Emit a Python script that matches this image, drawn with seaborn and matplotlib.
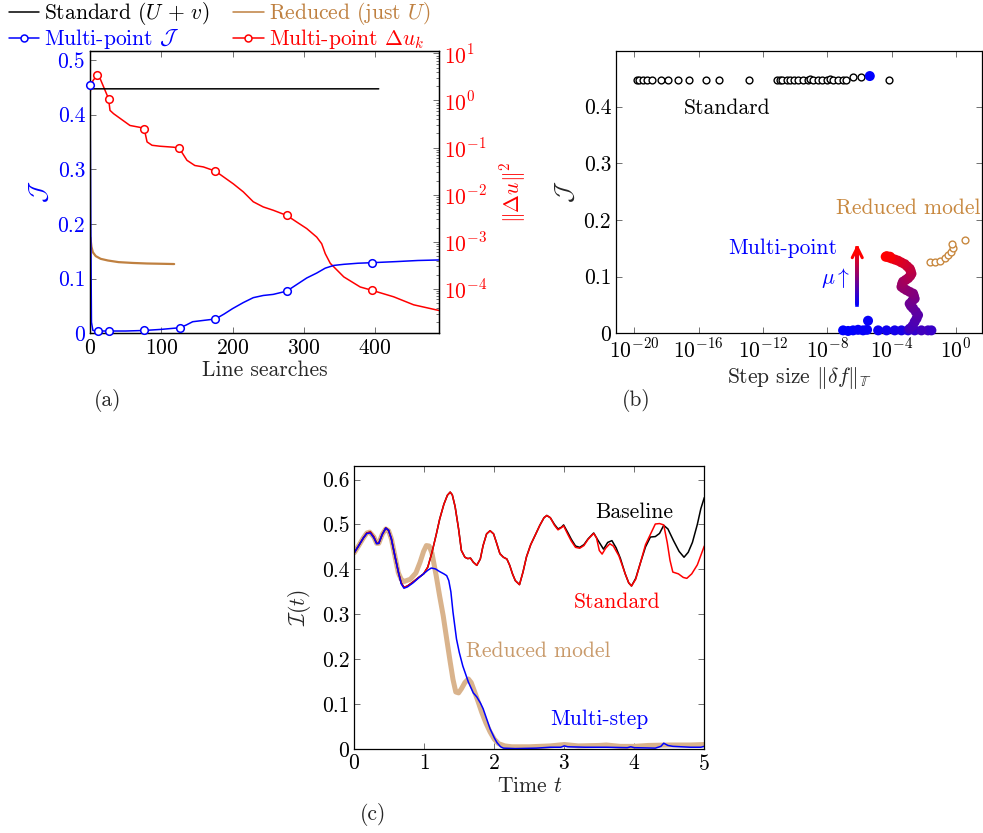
import numpy as np
import matplotlib
matplotlib.use("Agg")
import matplotlib.pyplot as plt
from matplotlib.lines import Line2D
from matplotlib.collections import LineCollection
from matplotlib.colors import LinearSegmentedColormap
import seaborn as sns

# ---------------- (a) optimisation histories ----------------
std_iter = [0, 2, 405]
std_J = [0.454, 0.447, 0.447]

red_iter = [0.5, 2, 4, 8, 15, 25, 40, 60, 80, 100, 118]
red_J = [0.175, 0.158, 0.148, 0.141, 0.136, 0.133, 0.130, 0.1285, 0.1275, 0.127, 0.1265]

mpJ_iter = [0, 1, 2, 4, 11, 26, 50, 76, 100, 126, 135, 144, 163, 176, 188, 200, 215,
            229, 243, 257, 276, 290, 304, 318, 330, 342, 356, 376, 396, 430, 460, 490]
mpJ_val = [0.454, 0.2, 0.02, 0.005, 0.004, 0.004, 0.004, 0.005, 0.007, 0.010, 0.015,
           0.021, 0.024, 0.026, 0.035, 0.045, 0.056, 0.065, 0.069, 0.071, 0.077, 0.089,
           0.101, 0.110, 0.119, 0.124, 0.126, 0.128, 0.129, 0.131, 0.133, 0.134]
mpJ_outer_iter = [0, 11, 26, 76, 126, 176, 276, 396]
mpJ_outer_val = [0.454, 0.004, 0.004, 0.005, 0.010, 0.026, 0.077, 0.129]

du_iter = [0, 4, 10, 14, 26, 28, 33, 56, 70, 76, 80, 87, 98, 117, 125, 136, 147, 159,
           176, 201, 215, 229, 243, 257, 276, 290, 304, 318, 325, 330, 337, 356, 379,
           396, 426, 454, 489]
du_val = [1.48, 2.63, 3.47, 2.95, 1.09, 0.617, 0.525, 0.295, 0.269, 0.251, 0.132, 0.112,
          0.107, 0.102, 0.0977, 0.0537, 0.0417, 0.0389, 0.0316, 0.0170, 0.0115, 7.08e-3,
          5.50e-3, 4.68e-3, 3.63e-3, 2.63e-3, 1.91e-3, 1.26e-3, 9.1e-4, 5.6e-4, 3.5e-4,
          1.8e-4, 1.1e-4, 9.3e-5, 6.8e-5, 4.6e-5, 3.5e-5]
du_outer_iter = [10, 26, 76, 125, 176, 276, 396]
du_outer_val = [3.47, 1.09, 0.251, 0.0977, 0.0316, 3.63e-3, 9.3e-5]

# ---------------- (b) objective versus step size ----------------
std_step_exp = [-19.86, -19.69, -19.44, -19.19, -18.92, -18.34, -17.89, -17.27, -16.63,
                -15.57, -14.74, -12.86, -11.12, -10.95, -10.79, -10.54, -10.33, -10.08,
                -9.81, -9.50, -9.19, -9.05, -8.88, -8.57, -8.32, -8.01, -7.81, -7.64,
                -7.33, -7.02, -6.81, -6.40, -5.88, -4.16]
std_step_J = [0.447] * 21 + [0.449, 0.447, 0.447, 0.447, 0.447, 0.449, 0.447,
                             0.447, 0.447, 0.447, 0.452, 0.452, 0.447]

mp_step_exp = [-5.36, -7.02, -6.71, -6.40, -6.09, -5.78, -5.53, -5.47, -4.84, -4.32,
               -3.81, -3.39, -2.98, -2.57, -2.15, -1.74, -1.53,
               -2.88, -2.70, -2.57, -2.45, -2.36, -2.50, -2.67, -2.80, -2.88, -2.72,
               -2.57, -2.62, -2.67, -2.88, -3.08, -3.25, -3.39, -3.35, -3.29, -3.13,
               -2.98, -2.85, -2.77, -2.82, -2.88, -3.03, -3.19, -3.40, -3.60, -3.80,
               -4.01, -4.20, -4.37, -4.30, -4.10]
mp_step_J = [0.454, 0.005, 0.004, 0.005, 0.006, 0.005, 0.006, 0.022, 0.005, 0.005,
             0.005, 0.005, 0.005, 0.005, 0.005, 0.005, 0.005,
             0.008, 0.013, 0.020, 0.026, 0.032, 0.038, 0.044, 0.048, 0.052, 0.057,
             0.061, 0.066, 0.070, 0.073, 0.076, 0.079, 0.082, 0.087, 0.091, 0.094,
             0.097, 0.101, 0.105, 0.110, 0.114, 0.118, 0.122, 0.125, 0.128, 0.130,
             0.132, 0.134, 0.135, 0.136, 0.135]
mp_mu = [0.0, 0.0, 0.0, 0.0, 0.02, 0.02, 0.03, 0.03, 0.05, 0.06, 0.08, 0.10, 0.15,
         0.20, 0.25, 0.25, 0.22,
         0.25, 0.28, 0.30, 0.32, 0.34, 0.36, 0.38, 0.40, 0.42, 0.44, 0.46, 0.48,
         0.50, 0.52, 0.54, 0.56, 0.58, 0.60, 0.62, 0.64, 0.66, 0.68, 0.70, 0.72,
         0.75, 0.78, 0.81, 0.84, 0.87, 0.90, 0.93, 0.96, 1.0, 1.0, 0.98]

red_step_exp = [-1.63, -1.32, -1.01, -0.70, -0.50, -0.29, -0.19, -0.22, 0.54]
red_step_J = [0.126, 0.126, 0.128, 0.132, 0.138, 0.144, 0.150, 0.157, 0.164]

# ---------------- (c) time histories ----------------
base_t = [0.00, 0.06, 0.13, 0.18, 0.23, 0.28, 0.32, 0.35, 0.40, 0.45, 0.49, 0.53, 0.58,
          0.63, 0.67, 0.71, 0.76, 0.84, 0.92, 0.99, 1.05, 1.11, 1.17, 1.22, 1.28, 1.33,
          1.37, 1.40, 1.44, 1.49, 1.53, 1.58, 1.62, 1.66, 1.70, 1.75, 1.80, 1.84, 1.89,
          1.94, 1.99, 2.03, 2.08, 2.13, 2.18, 2.22, 2.26, 2.30, 2.36, 2.41, 2.46, 2.52,
          2.59, 2.65, 2.71, 2.75, 2.80, 2.86, 2.91, 2.96, 2.99, 3.05, 3.10, 3.16, 3.22,
          3.28, 3.34, 3.42, 3.48, 3.56, 3.62, 3.68, 3.74, 3.80, 3.87, 3.92, 3.96, 4.02,
          4.09, 4.16, 4.23, 4.30, 4.36, 4.42, 4.48, 4.56, 4.64, 4.71, 4.77, 4.83, 4.90,
          4.95, 5.00]
base_I = [0.437, 0.452, 0.470, 0.481, 0.483, 0.472, 0.458, 0.458, 0.478, 0.492, 0.487,
          0.468, 0.430, 0.394, 0.370, 0.360, 0.363, 0.372, 0.382, 0.390, 0.405, 0.438,
          0.477, 0.512, 0.545, 0.565, 0.572, 0.566, 0.540, 0.490, 0.442, 0.427, 0.424,
          0.425, 0.416, 0.409, 0.423, 0.453, 0.479, 0.486, 0.479, 0.460, 0.435, 0.427,
          0.423, 0.409, 0.390, 0.375, 0.366, 0.394, 0.428, 0.455, 0.478, 0.498, 0.515,
          0.520, 0.515, 0.500, 0.490, 0.494, 0.499, 0.482, 0.467, 0.452, 0.449, 0.455,
          0.468, 0.481, 0.465, 0.445, 0.460, 0.464, 0.448, 0.425, 0.390, 0.370, 0.363,
          0.380, 0.416, 0.450, 0.472, 0.473, 0.480, 0.498, 0.490, 0.464, 0.440, 0.427,
          0.438, 0.460, 0.500, 0.535, 0.560]

std_t = [0.00, 0.06, 0.13, 0.18, 0.23, 0.28, 0.32, 0.35, 0.40, 0.45, 0.49, 0.53, 0.58,
         0.63, 0.67, 0.71, 0.76, 0.84, 0.92, 0.99, 1.05, 1.11, 1.17, 1.22, 1.28, 1.33,
         1.37, 1.40, 1.44, 1.49, 1.53, 1.58, 1.62, 1.66, 1.70, 1.75, 1.80, 1.84, 1.89,
         1.94, 1.99, 2.03, 2.08, 2.13, 2.18, 2.22, 2.26, 2.30, 2.36, 2.41, 2.46, 2.52,
         2.59, 2.65, 2.71, 2.75, 2.80, 2.86, 2.91, 2.96, 2.99, 3.05, 3.10, 3.16, 3.22,
         3.28, 3.34, 3.42, 3.46, 3.50, 3.54, 3.59, 3.65, 3.70, 3.78, 3.87, 3.92, 3.96,
         4.02, 4.09, 4.16, 4.23, 4.30, 4.36, 4.42, 4.47, 4.51, 4.55, 4.63, 4.70, 4.75,
         4.82, 4.90, 5.00]
std_I = [0.437, 0.452, 0.470, 0.481, 0.483, 0.472, 0.458, 0.458, 0.478, 0.492, 0.487,
         0.468, 0.430, 0.394, 0.370, 0.360, 0.363, 0.372, 0.382, 0.390, 0.405, 0.438,
         0.477, 0.512, 0.545, 0.565, 0.572, 0.566, 0.540, 0.490, 0.442, 0.427, 0.424,
         0.425, 0.416, 0.409, 0.423, 0.453, 0.479, 0.486, 0.479, 0.460, 0.435, 0.427,
         0.423, 0.409, 0.390, 0.375, 0.366, 0.394, 0.428, 0.455, 0.478, 0.498, 0.515,
         0.520, 0.515, 0.498, 0.488, 0.493, 0.497, 0.478, 0.463, 0.449, 0.447, 0.453,
         0.467, 0.480, 0.470, 0.442, 0.434, 0.447, 0.457, 0.452, 0.430, 0.390, 0.370,
         0.363, 0.378, 0.416, 0.455, 0.478, 0.501, 0.502, 0.499, 0.460, 0.420, 0.394,
         0.390, 0.382, 0.380, 0.390, 0.410, 0.452]

ms_t = [0.00, 0.06, 0.13, 0.18, 0.23, 0.28, 0.32, 0.35, 0.40, 0.45, 0.49, 0.53, 0.58,
        0.63, 0.67, 0.71, 0.76, 0.84, 0.92, 0.99, 1.05, 1.10, 1.16, 1.22, 1.28, 1.32,
        1.35, 1.38, 1.41, 1.46, 1.50, 1.55, 1.63, 1.70, 1.75, 1.80, 1.84, 1.90, 1.94,
        2.00, 2.04, 2.09, 2.13, 2.30, 2.60, 2.80, 2.95, 3.00, 3.05, 3.30, 3.60, 3.90,
        3.95, 4.00, 4.30, 4.38, 4.42, 4.48, 4.55, 4.80, 4.95, 5.00]
ms_I = [0.437, 0.452, 0.470, 0.480, 0.481, 0.470, 0.457, 0.458, 0.478, 0.492, 0.487,
        0.468, 0.430, 0.394, 0.368, 0.358, 0.361, 0.370, 0.381, 0.390, 0.398, 0.403,
        0.401, 0.395, 0.390, 0.386, 0.375, 0.350, 0.305, 0.245, 0.215, 0.185, 0.149,
        0.125, 0.116, 0.103, 0.090, 0.063, 0.045, 0.025, 0.014, 0.005, 0.002, 0.001,
        0.002, 0.004, 0.004, 0.007, 0.005, 0.004, 0.004, 0.003, 0.005, 0.003, 0.002,
        0.006, 0.013, 0.008, 0.006, 0.004, 0.004, 0.006]

rm_t = [0.00, 0.06, 0.13, 0.18, 0.22, 0.28, 0.32, 0.35, 0.40, 0.45, 0.49, 0.53, 0.58,
        0.63, 0.67, 0.71, 0.80, 0.88, 0.94, 0.99, 1.03, 1.07, 1.11, 1.17, 1.22, 1.27,
        1.32, 1.37, 1.41, 1.45, 1.49, 1.53, 1.58, 1.63, 1.67, 1.72, 1.77, 1.82, 1.88,
        1.94, 2.00, 2.06, 2.15, 2.25, 2.50, 2.80, 3.00, 3.20, 3.50, 3.60, 3.80, 4.00,
        4.20, 4.50, 4.80, 5.00]
rm_I = [0.437, 0.452, 0.470, 0.481, 0.483, 0.472, 0.458, 0.458, 0.478, 0.490, 0.486,
        0.468, 0.430, 0.392, 0.378, 0.373, 0.378, 0.392, 0.416, 0.440, 0.453, 0.452,
        0.436, 0.386, 0.340, 0.297, 0.245, 0.194, 0.155, 0.127, 0.125, 0.134, 0.148,
        0.156, 0.148, 0.127, 0.105, 0.082, 0.058, 0.038, 0.022, 0.012, 0.007, 0.005,
        0.005, 0.007, 0.010, 0.007, 0.008, 0.009, 0.006, 0.006, 0.008, 0.009, 0.009,
        0.010]

# ---------------- styling ----------------
sns.set_theme(style="ticks")
plt.rcParams.update({
    "font.family": "serif",
    "font.serif": ["cmr10"],
    "mathtext.fontset": "cm",
    "axes.formatter.use_mathtext": True,
    "font.size": 15.5,
    "axes.linewidth": 0.9,
    "axes.edgecolor": "black",
    "xtick.color": "0.35",
    "ytick.color": "0.35",
    "xtick.labelcolor": "black",
    "ytick.labelcolor": "black",
})

BLUE, RED, BLACK = "#0000ff", "#ff0000", "black"
BROWN = "#bf8040"
TAN = "#d9b38c"
TAN_TXT = "#c99a6a"
FS = 15.5

fig = plt.figure(figsize=(9.83, 8.33), dpi=100)


def style_ticks(ax, **kw):
    ax.tick_params(direction="in", length=4, width=0.6, labelsize=FS, **kw)


# ---------------- panel (a) ----------------
axa = fig.add_axes([0.0916, 0.6, 0.3553, 0.3393])
axr = axa.twinx()
axa.set_zorder(axr.get_zorder() + 1)
axa.patch.set_visible(False)

sns.lineplot(x=du_iter, y=du_val, ax=axr, color=RED, lw=1.1, estimator=None, sort=False)
sns.scatterplot(x=du_outer_iter, y=du_outer_val, ax=axr, color="white", edgecolor=RED,
                s=30, linewidth=1.1, zorder=5)

sns.lineplot(x=std_iter, y=std_J, ax=axa, color=BLACK, lw=1.1, estimator=None, sort=False)
sns.lineplot(x=red_iter, y=red_J, ax=axa, color=BROWN, lw=1.6, estimator=None, sort=False)
sns.lineplot(x=mpJ_iter, y=mpJ_val, ax=axa, color=BLUE, lw=1.1, estimator=None, sort=False)
sns.scatterplot(x=mpJ_outer_iter, y=mpJ_outer_val, ax=axa, color="white", edgecolor=BLUE,
                s=30, linewidth=1.1, zorder=5, clip_on=False)

axa.set_xlim(0, 490)
axa.set_ylim(0, 0.517)
axa.set_xticks([0, 100, 200, 300, 400])
axa.set_yticks([0, 0.1, 0.2, 0.3, 0.4, 0.5])
axa.set_yticklabels(["0", "0.1", "0.2", "0.3", "0.4", "0.5"])
style_ticks(axa, top=True, right=False)
axa.tick_params(axis="y", labelcolor=BLUE)
axa.set_xlabel("Line searches", fontsize=FS, labelpad=2)
axa.set_ylabel(r"$\mathcal{J}$", fontsize=FS + 2, color=BLUE, labelpad=5)

axr.set_yscale("log")
axr.set_ylim(10 ** -4.94, 10 ** 1.06)
axr.set_yticks([1e1, 1e0, 1e-1, 1e-2, 1e-3, 1e-4])
axr.set_yticklabels([r"$10^{1}$", r"$10^{0}$", r"$10^{-1}$", r"$10^{-2}$",
                     r"$10^{-3}$", r"$10^{-4}$"])
axr.tick_params(axis="y", which="both", direction="in", width=0.6, labelsize=FS,
                labelcolor=RED)
axr.tick_params(axis="y", which="major", length=4)
axr.tick_params(axis="y", which="minor", length=2.5)
axr.set_ylabel(r"$\Vert\Delta u\Vert^2$", fontsize=FS, color=RED, labelpad=8)
axr.set_xlim(0, 490)

handles = [
    Line2D([], [], color=BLACK, lw=1.1),
    Line2D([], [], color=BLUE, lw=1.1, marker="o", mfc="white", ms=5, mew=1.1),
    Line2D([], [], color=BROWN, lw=1.1),
    Line2D([], [], color=RED, lw=1.1, marker="o", mfc="white", ms=5, mew=1.1),
]
labels = [r"Standard $(U\,+\,v)$", r"Multi-point $\mathcal{J}$",
          r"Reduced (just $U$)", r"Multi-point $\Delta u_k$"]
fig.legend(handles, labels, loc="upper left", bbox_to_anchor=(0.0, 1.01), ncol=2,
           frameon=False, fontsize=FS, handlelength=1.4, handletextpad=0.25,
           columnspacing=1.1, labelspacing=0.0, labelcolor="linecolor",
           borderaxespad=0.0)

# ---------------- panel (b) ----------------
axb = fig.add_axes([0.6267, 0.6, 0.372, 0.3393])
mu_cmap = LinearSegmentedColormap.from_list("mu", [BLUE, RED])

sns.scatterplot(x=10 ** np.array(std_step_exp), y=std_step_J, ax=axb, color="white",
                edgecolor=BLACK, s=24, linewidth=1.0, zorder=3)
sns.scatterplot(x=10 ** np.array(red_step_exp), y=red_step_J, ax=axb, color="white",
                edgecolor="#c8883f", s=24, linewidth=1.0, zorder=3)
sns.scatterplot(x=10 ** np.array(mp_step_exp), y=mp_step_J, hue=mp_mu, palette=mu_cmap,
                hue_norm=(0, 1), ax=axb, s=52, edgecolor="none", linewidth=0,
                legend=False, zorder=4, clip_on=False)

axb.set_xscale("log")
axb.set_xlim(10 ** -21.14, 10 ** 1.6)
axb.set_ylim(0, 0.499)
axb.set_xticks([1e-20, 1e-16, 1e-12, 1e-8, 1e-4, 1e0])
axb.set_xticklabels([r"$10^{-20}$", r"$10^{-16}$", r"$10^{-12}$", r"$10^{-8}$",
                     r"$10^{-4}$", r"$10^{0}$"])
axb.xaxis.set_minor_locator(matplotlib.ticker.NullLocator())
axb.set_yticks([0, 0.1, 0.2, 0.3, 0.4])
axb.set_yticklabels(["0", "0.1", "0.2", "0.3", "0.4"])
style_ticks(axb, top=True, right=True)
axb.set_xlabel(r"Step size $\Vert\delta f\Vert_{\mathbb{T}}$", fontsize=FS, labelpad=2)
axb.set_ylabel(r"$\mathcal{J}$", fontsize=FS + 2, labelpad=5)

# gradient arrow for increasing mu
arrow_x = 10 ** -6.14
ys = np.linspace(0.05, 0.150, 30)
segs = [[(arrow_x, ys[i]), (arrow_x, ys[i + 1])] for i in range(len(ys) - 1)]
lc = LineCollection(segs, colors=mu_cmap(np.linspace(0, 1, len(segs))), linewidths=2.6,
                    capstyle="projecting", zorder=5)
axb.add_collection(lc)
axb.annotate("", xy=(arrow_x, 0.157), xytext=(arrow_x, 0.140),
             arrowprops=dict(arrowstyle="->", color=RED, lw=2.2, mutation_scale=18,
                             shrinkA=0, shrinkB=0), zorder=6)

axb.text(10 ** -7.5, 0.0966, r"$\mu\uparrow$", color=BLUE, fontsize=FS,
         ha="center", va="center")
axb.text(10 ** -10.8, 0.150, "Multi-point", color=BLUE, fontsize=FS,
         ha="center", va="center")
axb.text(10 ** -2.96, 0.220, "Reduced model", color="#c8883f", fontsize=FS,
         ha="center", va="center")
axb.text(10 ** -14.24, 0.397, "Standard", color=BLACK, fontsize=FS,
         ha="center", va="center")

# ---------------- panel (c) ----------------
axc = fig.add_axes([0.3604, 0.1008, 0.3561, 0.3397])
sns.lineplot(x=rm_t, y=rm_I, ax=axc, color=TAN, lw=3.6, estimator=None, sort=False)
sns.lineplot(x=base_t, y=base_I, ax=axc, color=BLACK, lw=1.1, estimator=None, sort=False)
sns.lineplot(x=std_t, y=std_I, ax=axc, color=RED, lw=1.1, estimator=None, sort=False)
sns.lineplot(x=ms_t, y=ms_I, ax=axc, color=BLUE, lw=1.1, estimator=None, sort=False)

axc.set_xlim(0, 5)
axc.set_ylim(0, 0.63)
axc.set_xticks([0, 1, 2, 3, 4, 5])
axc.set_yticks([0, 0.1, 0.2, 0.3, 0.4, 0.5, 0.6])
axc.set_yticklabels(["0", "0.1", "0.2", "0.3", "0.4", "0.5", "0.6"])
style_ticks(axc, top=True, right=True)
axc.set_xlabel(r"Time $t$", fontsize=FS, labelpad=2)
axc.set_ylabel(r"$\mathcal{I}(t)$", fontsize=FS, labelpad=6)

axc.text(4.0, 0.527, "Baseline", color=BLACK, fontsize=FS, ha="center", va="center")
axc.text(3.75, 0.327, "Standard", color=RED, fontsize=FS, ha="center", va="center")
axc.text(2.63, 0.218, "Reduced model", color=TAN_TXT, fontsize=FS, ha="center",
         va="center")
axc.text(3.50, 0.067, "Multi-step", color=BLUE, fontsize=FS, ha="center", va="center")

# ---------------- panel tags ----------------
fig.text(108 / 983, 1 - 400 / 833, "(a)", fontsize=FS, ha="center", va="center")
fig.text(636 / 983, 1 - 400 / 833, "(b)", fontsize=FS, ha="center", va="center")
fig.text(373 / 983, 1 - 815 / 833, "(c)", fontsize=FS, ha="center", va="center")

fig.savefig("out.png", dpi=100)
